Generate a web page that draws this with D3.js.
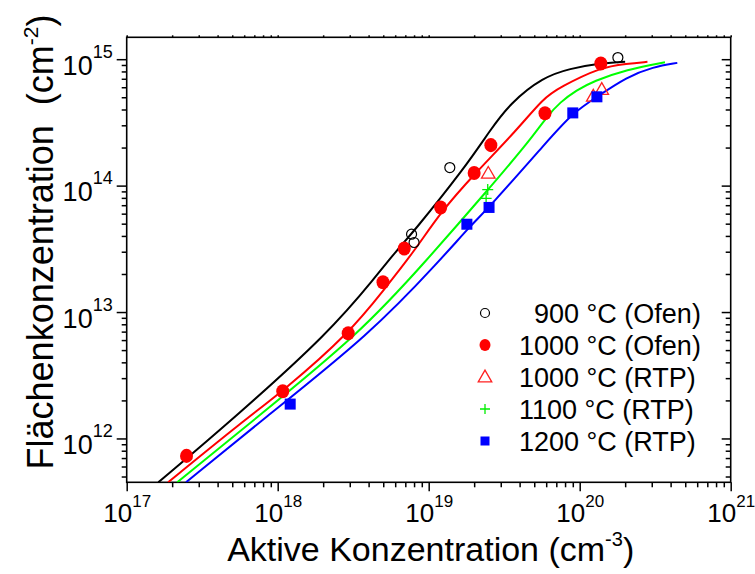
<!DOCTYPE html>
<html>
<head>
<meta charset="utf-8">
<script src="https://cdn.jsdelivr.net/npm/d3@7"></script>
<style>
  body { margin: 0; background: #fff; }
  svg { font-family: "Liberation Sans", Arial, sans-serif; }
</style>
</head>
<body>
<div id="chart"></div>
<script>
// values
const xDomain = [1e17, 1e21];
const yDomain = [4.5e11, 1.49e15];

const seriesNames = ["900 °C (Ofen)", "1000 °C (Ofen)", "1000 °C (RTP)", "1100 °C (RTP)", "1200 °C (RTP)"];

// measured points [active conc, sheet conc]
const pts900Ofen = [[7.7e18, 4.13e13], [8.0e18, 3.55e13], [1.38e19, 1.39e14], [1.79e20, 1.03e15]];
const pts1000Ofen = [[2.49e17, 7.28e11], [1.08e18, 2.36e12], [2.93e18, 6.79e12], [4.98e18, 1.72e13],
  [6.89e18, 3.18e13], [1.20e19, 6.72e13], [2.0e19, 1.26e14], [2.58e19, 2.09e14], [5.89e19, 3.74e14], [1.38e20, 9.25e14]];
const pts1000RTP = [[2.48e19, 1.25e14], [1.23e20, 5.09e14], [1.40e20, 5.75e14]];
const pts1100RTP = [[2.46e19, 9.3e13], [2.40e19, 7.94e13]];
const pts1200RTP = [[1.21e18, 1.87e12], [1.79e19, 4.95e13], [2.51e19, 6.72e13], [9.0e19, 3.76e14], [1.30e20, 5.04e14]];

// fitted curves
const curveBlack = [[1.62e17, 4.5e11], [4.95e17, 1.39e12], [2.22e18, 6.97e12], [4.53e18, 1.95e13], [6.14e18, 3.08e13],
  [7.71e18, 4.13e13], [1.74e19, 1.39e14], [2.55e19, 2.74e14], [3.45e19, 4.47e14], [5.74e19, 7.24e14],
  [8.63e19, 8.43e14], [1.33e20, 9.25e14], [2.0e20, 9.53e14]];
const curveRed = [[1.88e17, 4.5e11], [5.98e17, 1.39e12], [1.09e18, 2.38e12], [2.96e18, 6.76e12], [5.14e18, 1.54e13],
  [8.11e18, 3.08e13], [1.20e19, 6.17e13], [2.0e19, 1.23e14], [3.83e19, 2.74e14], [5.74e19, 4.91e14],
  [7.41e19, 6.0e14], [1.38e20, 8.65e14], [2.05e20, 9.21e14], [2.81e20, 9.53e14]];
const curveGreen = [[2.16e17, 4.5e11], [6.89e17, 1.39e12], [3.51e18, 6.76e12], [9.71e18, 2.57e13], [2.46e19, 9.2e13],
  [4.69e19, 2.29e14], [6.04e19, 3.5e14], [7.41e19, 4.57e14], [9.55e19, 5.69e14], [1.23e20, 6.70e14],
  [2.05e20, 8.3e14], [3.67e20, 9.46e14]];
const curveBlue = [[2.47e17, 4.5e11], [7.83e17, 1.39e12], [4.15e18, 6.76e12], [1.19e19, 2.57e13], [1.93e19, 4.95e13],
  [2.51e19, 6.71e13], [6.19e19, 2.29e14], [8.99e19, 3.76e14], [1.30e20, 5.04e14], [2.05e20, 7.24e14],
  [3.07e20, 8.69e14], [4.43e20, 9.35e14]];

const W = 755, H = 574;
const margin = { top: 37.3, right: 24.3, bottom: 91.7, left: 126.7 };
const iw = W - margin.left - margin.right,
      ih = H - margin.top - margin.bottom;

const svg = d3.select("#chart").append("svg")
  .attr("width", W)
  .attr("height", H);

const x = d3.scaleLog().domain(xDomain).range([0, iw]);
const y = d3.scaleLog().domain(yDomain).range([ih, 0]);

const g = svg.append("g")
  .attr("transform", "translate(" + margin.left + "," + margin.top + ")");

const isMajor = v => Math.abs(Math.log10(v) - Math.round(Math.log10(v))) < 1e-9;
const xMajor = x.ticks().filter(isMajor), xMinor = x.ticks().filter(v => !isMajor(v));
const yMajor = y.ticks().filter(isMajor), yMinor = y.ticks().filter(v => !isMajor(v));

function styleAxis(sel) {
  sel.select(".domain").remove();
  sel.selectAll("line").attr("stroke", "#000").attr("stroke-width", 1.5);
}

// bottom
g.append("g").attr("transform", "translate(0," + ih + ")")
  .call(d3.axisBottom(x).tickValues(xMinor).tickSize(5).tickFormat("")).call(styleAxis);
const xAx = g.append("g").attr("transform", "translate(0," + ih + ")")
  .call(d3.axisBottom(x).tickValues(xMajor).tickSize(9)).call(styleAxis);
// left
g.append("g").call(d3.axisLeft(y).tickValues(yMinor).tickSize(5).tickFormat("")).call(styleAxis);
const yAx = g.append("g")
  .call(d3.axisLeft(y).tickValues(yMajor).tickSize(10)).call(styleAxis);
// right (inward)
g.append("g").attr("transform", "translate(" + iw + ",0)")
  .call(d3.axisLeft(y).tickValues(yMinor).tickSize(5).tickFormat("")).call(styleAxis);
g.append("g").attr("transform", "translate(" + iw + ",0)")
  .call(d3.axisLeft(y).tickValues(yMajor).tickSize(9).tickFormat("")).call(styleAxis);
// top, tiny
g.append("g").call(d3.axisTop(x).tickValues(x.ticks()).tickSize(2).tickFormat("")).call(styleAxis);

// frame
g.append("rect").attr("width", iw).attr("height", ih)
  .attr("fill", "none").attr("stroke", "#000").attr("stroke-width", 1.6);

// power-of-ten labels
xAx.selectAll(".tick text").each(function(d) {
  const t = d3.select(this).text(null)
    .attr("fill", "#000").attr("font-size", 26).attr("y", 40).attr("dy", 0);
  t.append("tspan").text("10");
  t.append("tspan").attr("font-size", 17).attr("dy", -15).text(Math.round(Math.log10(d)));
});
yAx.selectAll(".tick text").each(function(d) {
  const t = d3.select(this).text(null)
    .attr("fill", "#000").attr("font-size", 27).attr("dy", 0).attr("y", 15).attr("x", -14);
  t.append("tspan").text("10");
  t.append("tspan").attr("font-size", 18).attr("dy", -17).text(Math.round(Math.log10(d)));
});

// curves
g.append("clipPath").attr("id", "clip").append("rect").attr("width", iw).attr("height", ih);
const line = d3.line().x(d => x(d[0])).y(d => y(d[1])).curve(d3.curveBasis);
const curves = [
  { data: curveBlack, color: "#000000" },
  { data: curveRed, color: "#ff0000" },
  { data: curveGreen, color: "#00ff00" },
  { data: curveBlue, color: "#0000ff" }
];
g.append("g").attr("clip-path", "url(#clip)")
  .selectAll("path").data(curves).join("path")
  .attr("d", d => line(d.data))
  .attr("fill", "none")
  .attr("stroke", d => d.color)
  .attr("stroke-width", 2);

// marker painters
function circleOpen(sel, r) {
  sel.append("circle").attr("r", r).attr("fill", "none").attr("stroke", "#000").attr("stroke-width", 1.2);
}
function circleFilled(sel, r) {
  sel.append("ellipse").attr("rx", r).attr("ry", r * 1.08).attr("fill", "#ff0000");
}
function triangle(sel, r) {
  sel.append("path").attr("d", d3.symbol(d3.symbolTriangle, r * r * 2.2)())
    .attr("fill", "none").attr("stroke", "#ff2020").attr("stroke-width", 1.3)
    .attr("transform", "translate(0," + (r * 0.15) + ")");
}
function plus(sel, r) {
  sel.append("path").attr("d", "M" + (-r) + ",0H" + r + "M0," + (-r) + "V" + r)
    .attr("stroke", "#00ee00").attr("stroke-width", 1.3).attr("fill", "none");
}
function square(sel, r) {
  sel.append("rect").attr("x", -r).attr("y", -r).attr("width", 2 * r).attr("height", 2 * r).attr("fill", "#0000ff");
}

const series = [
  { data: pts900Ofen, draw: circleOpen, r: 5, lr: 4.5 },
  { data: pts1000Ofen, draw: circleFilled, r: 6.5, lr: 5.5 },
  { data: pts1000RTP, draw: triangle, r: 6, lr: 6 },
  { data: pts1100RTP, draw: plus, r: 5.5, lr: 5 },
  { data: pts1200RTP, draw: square, r: 5.5, lr: 4.5 }
];

series.forEach(s => {
  g.append("g").selectAll("g").data(s.data).join("g")
    .attr("transform", d => "translate(" + x(d[0]) + "," + y(d[1]) + ")")
    .each(function() { s.draw(d3.select(this), s.r); });
});

// legend
const legend = svg.append("g");
series.forEach((s, i) => {
  const row = legend.append("g").attr("transform", "translate(485," + (313 + i * 32) + ")");
  s.draw(row, s.lr);
  row.append("text")
    .attr("x", 34).attr("y", 9.6)
    .attr("font-size", 27)
    .style("white-space", "pre")
    .text((i === 0 ? "  " : "") + seriesNames[i]);
});

// axis titles
const xt = svg.append("text")
  .attr("x", margin.left + iw / 2 + 2).attr("y", 561)
  .attr("text-anchor", "middle").attr("font-size", 34);
xt.append("tspan").text("Aktive Konzentration (cm");
xt.append("tspan").attr("font-size", 20).attr("dy", -15).text("-3");
xt.append("tspan").attr("dy", 15).text(")");

const yt = svg.append("text")
  .attr("transform", "translate(53,242) rotate(-90)")
  .attr("text-anchor", "middle").attr("font-size", 36)
  .style("white-space", "pre");
yt.append("tspan").text("Flächenkonzentration  (cm");
yt.append("tspan").attr("font-size", 21).attr("dy", -15).text("-2");
yt.append("tspan").attr("dy", 15).text(")");
</script>
</body>
</html>
